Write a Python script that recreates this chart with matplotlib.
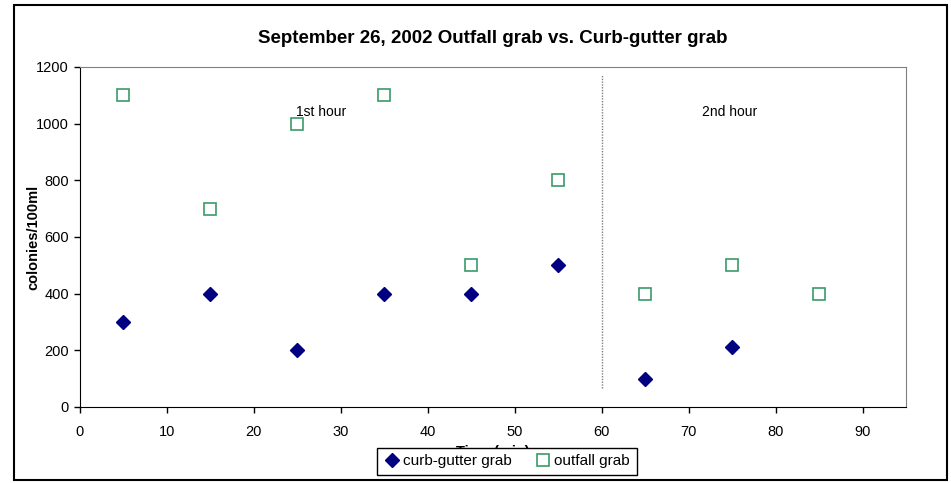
import matplotlib
matplotlib.use("Agg")
import matplotlib.pyplot as plt
from matplotlib.patches import Rectangle

plt.rcParams['font.family'] = ['Liberation Sans', 'DejaVu Sans']

time_curb = [5, 15, 25, 35, 45, 55, 65, 75]
curb_gutter = [300, 400, 200, 400, 400, 500, 100, 212]
time_outfall = [5, 15, 25, 35, 45, 55, 65, 75, 85]
outfall = [1100, 700, 1000, 1100, 500, 800, 400, 500, 400]
x_ticks = [0, 10, 20, 30, 40, 50, 60, 70, 80, 90]
y_ticks = [0, 200, 400, 600, 800, 1000, 1200]

fig = plt.figure(figsize=(9.51, 4.83), dpi=100)
ax = fig.add_axes([80/951, 1-407/483, (906-80)/951, (407-67)/483])

ax.plot(time_curb, curb_gutter, linestyle='none', marker='D', markersize=7,
        color='#000080', label='curb-gutter grab', zorder=3)
ax.plot(time_outfall, outfall, linestyle='none', marker='s', markersize=8.5,
        markerfacecolor='white', markeredgecolor='#3a9a6a', markeredgewidth=1.2,
        label='outfall grab', zorder=3)

ax.vlines(60, 67, 1172, colors='#808080', linestyles=(0, (1, 1)), linewidth=1, zorder=2)
ax.text(24.8, 1040, '1st hour', fontsize=10, ha='left', va='center')
ax.text(74.7, 1040, '2nd hour', fontsize=10, ha='center', va='center')

ax.set_xlim(0, 95)
ax.set_ylim(0, 1200)
ax.set_xticks(x_ticks)
ax.set_yticks(y_ticks)
ax.tick_params(axis='both', direction='out', length=4, width=1, labelsize=10.5)
ax.tick_params(axis='x', pad=9)
ax.tick_params(axis='y', pad=4)
for side in ['top', 'right']:
    ax.spines[side].set_color('#808080')
for side in ['left', 'bottom']:
    ax.spines[side].set_color('black')

ax.set_xlabel('Time (min)', fontsize=10.5, fontweight='bold')
ax.xaxis.set_label_coords(0.5, -(445-407)/340)
ax.set_ylabel('colonies/100ml', fontsize=10.5, fontweight='bold', va='center')
ax.yaxis.set_label_coords(-(80-33)/826, 0.5)
ax.set_title('September 26, 2002 Outfall grab vs. Curb-gutter grab',
             fontsize=13.5, fontweight='bold', pad=17)

leg = fig.legend(loc='center', bbox_to_anchor=(507/951, 1-461.5/483), ncol=2,
                 fontsize=11, frameon=True, fancybox=False, edgecolor='black',
                 handletextpad=0.2, columnspacing=1.6, borderpad=0.45,
                 handlelength=1.0)
leg.get_frame().set_linewidth(1)
leg.get_frame().set_facecolor('white')
leg.get_frame().set_alpha(1)
leg.set_zorder(10)

fig.patches.append(Rectangle((14/951, 3/483), (947-14)/951, (478-3)/483,
                             transform=fig.transFigure, fill=False,
                             edgecolor='black', linewidth=1.5))

fig.savefig('out.png', dpi=100)
